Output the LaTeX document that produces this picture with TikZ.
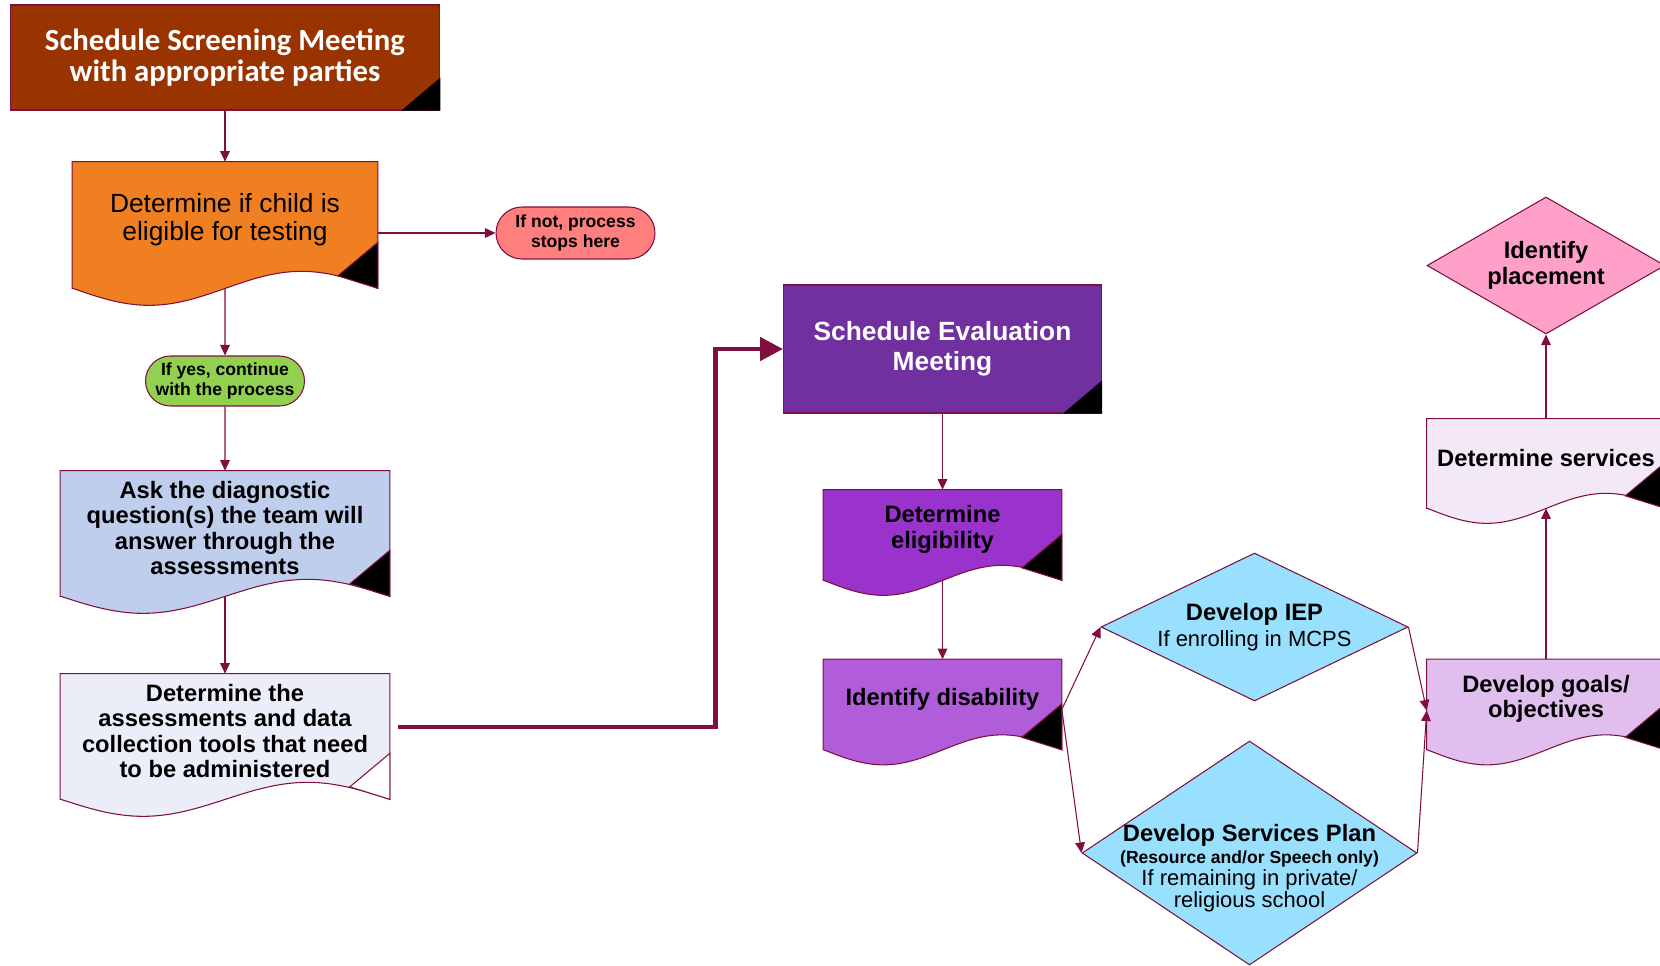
\documentclass[tikz,border=0pt]{standalone}
\usepackage{fontspec}
\setmainfont{Liberation Sans}
\newfontfamily\calibri{Carlito}
\usetikzlibrary{arrows.meta, positioning, shapes.geometric, shapes.misc, backgrounds}
\definecolor{edge}{HTML}{7F0F3F}
\definecolor{screenfill}{HTML}{993300}
\definecolor{checkfill}{HTML}{F07F21}
\definecolor{stopfill}{HTML}{FF7F7F}
\definecolor{yesfill}{HTML}{92D050}
\definecolor{askfill}{HTML}{C0CEEE}
\definecolor{toolsfill}{HTML}{EBEEF8}
\definecolor{evalfill}{HTML}{7030A0}
\definecolor{eligfill}{HTML}{9933CC}
\definecolor{disfill}{HTML}{B15DD9}
\definecolor{planfill}{HTML}{99E0FF}
\definecolor{goalsfill}{HTML}{E0BEEE}
\definecolor{servfill}{HTML}{F2E8F6}
\definecolor{placefill}{HTML}{FFA0C8}

\begin{document}
\begin{tikzpicture}[x=0.02cm, y=-0.02cm, >={Triangle[length=6pt, width=5.5pt]},
  link/.style={->, draw=edge, line width=0.6pt},
  bigarrow/.style={-{Triangle[length=13pt, width=13pt]}, draw=edge, line width=2.8pt},
  box/.style={draw=edge, line width=0.6pt, inner sep=0pt, align=center},
  doc/.style={inner sep=0pt},
  doctext/.style={align=center, yshift=0.11cm, font=\fontsize{13.5}{14.5}\selectfont\bfseries},
  pill/.style={rounded rectangle, draw=edge, line width=0.6pt, inner sep=0pt, minimum width=3.18cm, align=center, font=\fontsize{10}{11}\selectfont\bfseries},
  choice/.style={diamond, draw=edge, line width=0.6pt, inner sep=0pt, align=center}]
  \useasboundingbox (0,0) rectangle (1660,966);
  \clip (0,0) rectangle (1660,966);

  % Screening
  \node[box, fill=screenfill, text=white, minimum width=8.6cm, minimum height=2.1cm, font=\calibri\fontsize{17.5}{18}\selectfont\bfseries] (screen) at (225,57.5) {Schedule Screening Meeting\\with appropriate parties};
  \node[doc, minimum width=6.1cm, minimum height=2.52cm, label={[doctext, font=\fontsize{15}{16}\selectfont]center:{Determine if child is\\eligible for testing}}] (check) at (225,225) {};
  \node[pill, fill=stopfill, minimum height=1.04cm] (stop) at (575.5,233) {If not, process\\stops here};
  \node[pill, fill=yesfill, minimum height=1cm] (yes) at (225,381) {If yes, continue\\with the process};
  \node[doc, minimum width=6.58cm, minimum height=2.5cm, label={[doctext]center:{Ask the diagnostic\\question(s) the team will\\answer through the\\assessments}}] (ask) at (225,533.5) {};
  \node[doc, minimum width=6.58cm, minimum height=2.5cm, label={[doctext]center:{Determine the\\assessments and data\\collection tools that need\\to be administered}}] (tools) at (225,736.5) {};

  % Evaluation
  \node[box, fill=evalfill, text=white, minimum width=6.36cm, minimum height=2.56cm, font=\fontsize{15}{16}\selectfont\bfseries] (eval) at (942.5,349) {Schedule Evaluation\\[1pt]Meeting};
  \node[doc, minimum width=4.76cm, minimum height=1.8cm, label={[doctext]center:{Determine\\eligibility}}] (elig) at (942.5,535) {};
  \node[doc, minimum width=4.76cm, minimum height=1.8cm, label={[doctext]center:{Identify disability}}] (dis) at (942.5,704.5) {};

  % Plans
  \node[choice, fill=planfill, minimum width=6.14cm, minimum height=2.96cm, aspect=2.07, font=\fontsize{12.5}{14.5}\selectfont] (iep) at (1254.5,627) {{\fontsize{13.5}{14.5}\selectfont\bfseries Develop IEP}\\If enrolling in MCPS};
  \node[choice, fill=planfill, minimum width=6.7cm, minimum height=4.48cm, aspect=1.5, label={[align=center, yshift=-0.3cm, font=\fontsize{12.5}{12.5}\selectfont]center:{{\fontsize{13.5}{14}\selectfont\bfseries Develop Services Plan}\\{\fontsize{10}{11}\selectfont\bfseries (Resource and/or Speech only)}\\If remaining in private/\\religious school}}] (plan) at (1249.5,853) {};
  \node[doc, minimum width=4.76cm, minimum height=1.8cm, label={[doctext]center:{Develop goals/\\objectives}}] (goals) at (1546,704.5) {};
  \node[doc, minimum width=4.76cm, minimum height=1.78cm, label={[doctext]center:{Determine services}}] (serv) at (1546,463.5) {};
  \node[choice, fill=placefill, minimum width=4.76cm, minimum height=2.74cm, aspect=1.74, font=\fontsize{13.5}{14.5}\selectfont\bfseries] (place) at (1546,265.5) {Identify\\placement};

  % Dokumenty (vlnitý spodek)
  \begin{scope}[on background layer]
    \foreach \nm/\c/\w/\a/\k in {check/checkfill/305/17/black, ask/askfill/329/17/black, tools/toolsfill/329/17/white,
        elig/eligfill/238/15/black, dis/disfill/238/15/black, goals/goalsfill/238/15/black, serv/servfill/238/15/black} {
      \filldraw[fill=\c, draw=edge, line width=0.6pt] (\nm.south west) |- (\nm.north east) -- (\nm.south east)
        sin ++({-\w/4},-\a) cos ++({-\w/4},\a) sin ++({-\w/4},\a) cos ++({-\w/4},-\a) -- cycle;
      \filldraw[fill=\k, draw=edge, line width=0.6pt] (\nm.south east) -- ++(0,-46) -- ++(-40,33.5) -- cycle;
    }
  \end{scope}
  \foreach \nm in {screen, eval}
    \fill[black] (\nm.south east) -- ++(0,-33) -- ++(-39,33) -- cycle;

  % Šipky
  \draw[link] (screen) -- (check);
  \draw[link] (check.east |- stop.west) -- (stop);
  \draw[link] (check) -- (yes);
  \draw[link] (yes) -- (ask);
  \draw[link] (ask) -- (tools);
  \draw[bigarrow] ([shift={(8,-9.5)}]tools.east) -- ++(318,0) |- (eval);
  \draw[link] (eval) -- (elig);
  \draw[link] (elig) -- (dis);
  \draw[link] ([yshift=-0.1cm]dis.east) -- (iep.west);
  \draw[link] ([yshift=-0.1cm]dis.east) -- (plan.west);
  \draw[link] (iep.east) -- ([yshift=-0.12cm]goals.west);
  \draw[link] (plan.east) -- ([yshift=-0.12cm]goals.west);
  \draw[link] (goals) -- (serv);
  \draw[link] (serv) -- (place);
\end{tikzpicture}
\end{document}
